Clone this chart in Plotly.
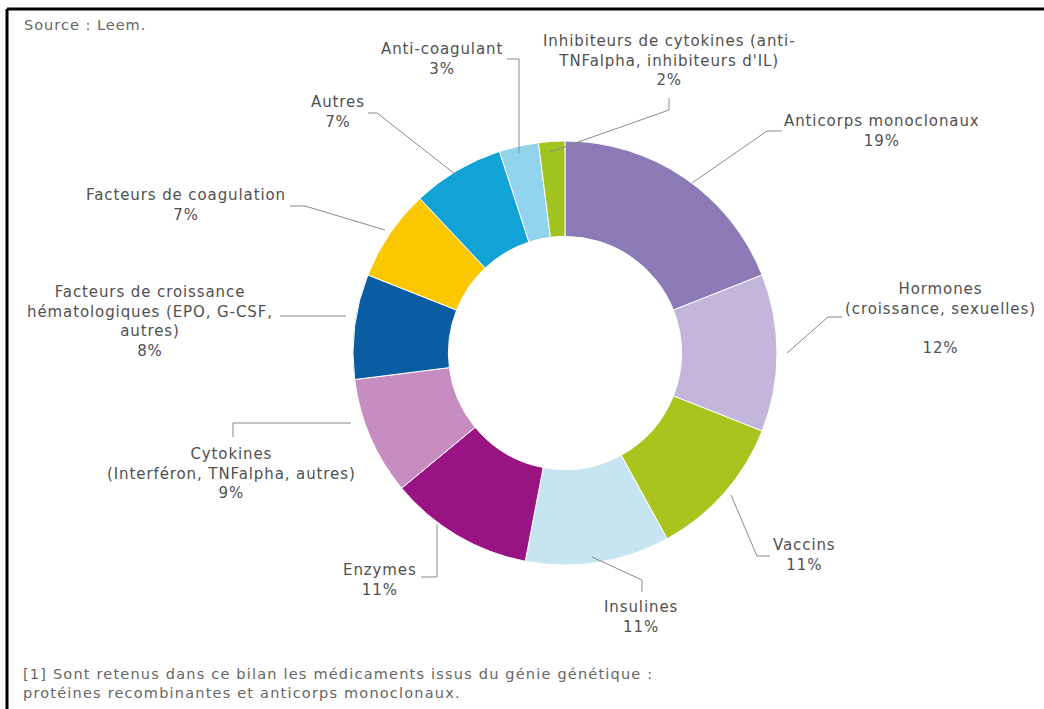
import plotly.graph_objects as go

# Répartition des médicaments biotechnologiques par classe thérapeutique
categories = [
    "Anticorps monoclonaux",
    "Hormones<br>(croissance, sexuelles)<br>",
    "Vaccins",
    "Insulines",
    "Enzymes",
    "Cytokines<br>(Interféron, TNFalpha, autres)",
    "Facteurs de croissance<br>hématologiques (EPO, G-CSF,<br>autres)",
    "Facteurs de coagulation",
    "Autres",
    "Anti-coagulant",
    "Inhibiteurs de cytokines (anti-<br>TNFalpha, inhibiteurs d'IL)",
]
shares = [19, 12, 11, 11, 11, 9, 8, 7, 7, 3, 2]
colors = [
    "#8C7AB7", "#C4B6DB", "#A9C41C", "#C7E4F1", "#991383", "#C88DC0",
    "#0A5DA2", "#FBC700", "#12A3D6", "#92D3EE", "#A2C41E",
]

W, H = 1044, 709


def px(x, y):
    return x / W, 1 - y / H


def spaced(text, gap):
    # wrap each line in a letter-spaced span
    return "<br>".join(
        f'<span style="letter-spacing:{gap}px">{line}</span>' if line else ""
        for line in text.split("<br>")
    )


# label centres (pixels) and leader paths (pixels), in category order
label_pos = [
    (882, 131), (940, 318), (804, 555), (641, 617), (380, 580),
    (231, 473), (150, 321), (186, 205), (338, 112), (442, 59), (669, 61),
]
leaders = [
    [(782, 131), (767, 131), (692, 183)],
    [(842, 317), (828, 317), (787, 353)],
    [(770, 556), (757, 556), (731, 495)],
    [(642, 592), (642, 580), (592, 557)],
    [(421, 577), (437, 577), (437, 524)],
    [(233, 437), (233, 423), (351, 423)],
    [(280, 316), (346, 316)],
    [(290, 206), (305, 206), (385, 230)],
    [(368, 113), (377, 113), (455, 174)],
    [(507, 59), (519, 59), (519, 153)],
    [(669, 98), (669, 110), (550, 152)],
]

fig = go.Figure()
fig.add_trace(go.Pie(
    labels=categories,
    values=shares,
    sort=False,
    direction="clockwise",
    rotation=0,
    hole=0.55,
    marker=dict(colors=colors, line=dict(color="white", width=1)),
    textinfo="none",
    showlegend=False,
    domain=dict(x=[353 / W, 777 / W], y=[1 - 565 / H, 1 - 141 / H]),
))

label_font = dict(family="DejaVu Sans", size=15, color="#505050")
annotations = []
for name, val, (lx, ly) in zip(categories, shares, label_pos):
    ax_, ay_ = px(lx, ly)
    annotations.append(dict(
        x=ax_, y=ay_, xref="paper", yref="paper",
        text=spaced(f"{name}<br>{val}%", 0.9), showarrow=False,
        xanchor="center", yanchor="middle", align="center",
        font=label_font,
    ))

note_font = dict(family="DejaVu Sans", size=14.5, color="#666666")
sx, sy = px(22, 25)
annotations.append(dict(
    x=sx, y=sy, xref="paper", yref="paper", text=spaced("Source : Leem.", 1.0),
    showarrow=False, xanchor="left", yanchor="middle", font=note_font,
))
fx, fy = px(21, 683)
annotations.append(dict(
    x=fx, y=fy, xref="paper", yref="paper",
    text=spaced("[1] Sont retenus dans ce bilan les médicaments issus du génie génétique :"
                "<br>protéines recombinantes et anticorps monoclonaux.", 1.2),
    showarrow=False, xanchor="left", yanchor="middle", align="left",
    font=note_font,
))

shapes = []
for pts in leaders:
    coords = [px(x, y) for x, y in pts]
    path = "M " + " L ".join(f"{x:.5f},{y:.5f}" for x, y in coords)
    shapes.append(dict(type="path", path=path, xref="paper", yref="paper",
                       line=dict(color="#8a8a8a", width=1)))

# frame lines (top and left)
x0, y0 = px(7, 9)
shapes.append(dict(type="line", xref="paper", yref="paper",
                   x0=x0, y0=y0, x1=1, y1=y0, line=dict(color="black", width=3)))
shapes.append(dict(type="line", xref="paper", yref="paper",
                   x0=x0, y0=y0, x1=x0, y1=0, line=dict(color="black", width=3)))

fig.update_layout(
    width=W, height=H,
    margin=dict(l=0, r=0, t=0, b=0),
    paper_bgcolor="white", plot_bgcolor="white",
    annotations=annotations, shapes=shapes,
)

fig.write_html("out.html")
